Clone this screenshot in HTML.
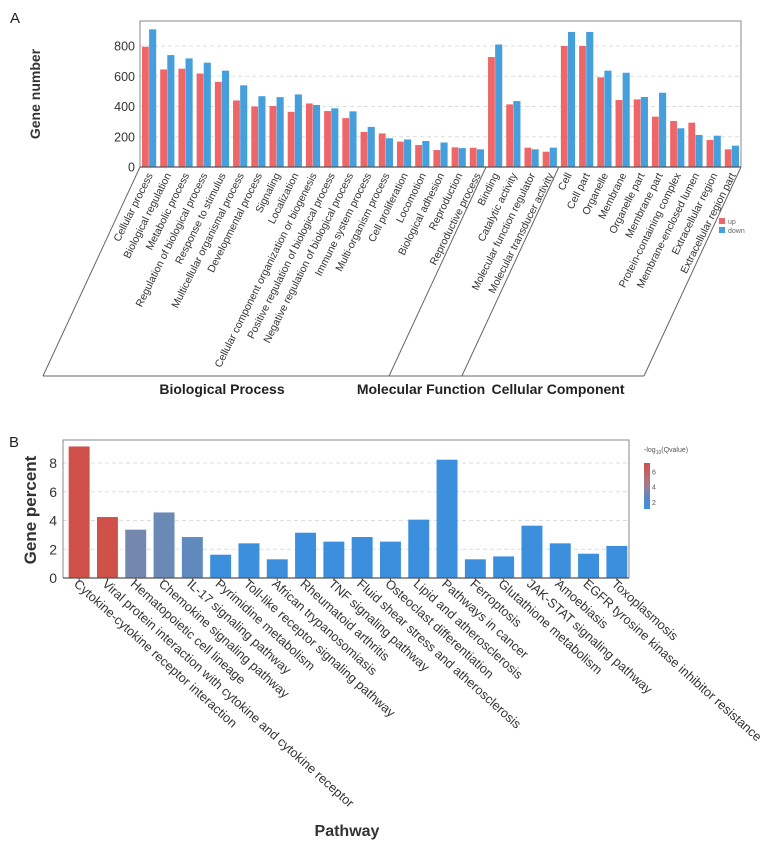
<!DOCTYPE html>
<html><head><meta charset="utf-8">
<style>
body{margin:0;background:#fff;}
svg{display:block;font-family:"Liberation Sans",Arial,sans-serif;}
</style></head>
<body>
<svg id="chart" width="769" height="847" viewBox="0 0 769 847" xmlns="http://www.w3.org/2000/svg"></svg>
<script>
// ---------- Panel A data ----------
const goTerms = ["Cellular process","Biological regulation","Metabolic process","Regulation of biological process","Response to stimulus","Multicellular organismal process","Developmental process","Signaling","Localization","Cellular component organization or biogenesis","Positive regulation of biological process","Negative regulation of biological process","Immune system process","Multi-organism process","Cell proliferation","Locomotion","Biological adhesion","Reproduction","Reproductive process","Binding","Catalytic activity","Molecular function regulator","Molecular transducer activity","Cell","Cell part","Organelle","Membrane","Organelle part","Membrane part","Protein-containing complex","Membrane-enclosed lumen","Extracellular region","Extracellular region part"];
const upValues = [795,645,650,618,563,440,400,403,365,420,370,323,232,222,168,145,112,130,127,727,414,128,101,800,800,593,443,447,333,304,293,179,117];
const downValues = [910,740,718,690,637,540,468,462,480,410,388,368,265,190,182,172,162,125,117,810,436,117,128,893,893,637,623,463,491,256,212,207,141];
const goCategories = ["Biological Process","Molecular Function","Cellular Component"];
const goCategoryCounts = [19,4,10];
const goTicks = [0,200,400,600,800];

// ---------- Panel B data ----------
const pathways = ["Cytokine-cytokine receptor interaction","Viral protein interaction with cytokine and cytokine receptor","Hematopoietic cell lineage","Chemokine signaling pathway","IL-17 signaling pathway","Pyrimidine metabolism","Toll-like receptor signaling pathway","African trypanosomiasis","Rheumatoid arthritis","TNF signaling pathway","Fluid shear stress and atherosclerosis","Osteoclast differentiation","Lipid and atherosclerosis","Pathways in cancer","Ferroptosis","Glutathione metabolism","JAK-STAT signaling pathway","Amoebiasis","EGFR tyrosine kinase inhibitor resistance","Toxoplasmosis"];
const genePercent = [9.15,4.24,3.36,4.56,2.85,1.62,2.41,1.3,3.15,2.53,2.85,2.53,4.06,8.23,1.3,1.5,3.64,2.41,1.69,2.23];
const qValue = [7.2,6.8,3.2,2.9,2.6,1.2,1.2,1.2,1.2,1.2,1.2,1.2,1.2,1.2,1.2,1.2,1.2,1.2,1.2,1.2];
const pTicks = [0,2,4,6,8];
const legendTicks = [2,4,6];

const NS="http://www.w3.org/2000/svg";
const svg=document.getElementById('chart');
function mk(tag,attrs,parent,text){const e=document.createElementNS(NS,tag);for(const k in attrs)e.setAttribute(k,attrs[k]);if(text!==undefined)e.textContent=text;(parent||svg).appendChild(e);return e;}

// ===== Panel A =====
const aL=140,aR=741,aT=21,aB=167;
const ay=v=>aB-v*0.15125;
const n=goTerms.length, step=(aR-aL)/n;
const ax=i=>aL+step*i;
let t=mk('text',{x:10,y:23,'font-size':15,fill:'#222'},svg,'A');

goTicks.forEach(v=>{
  if(v>0){const g=mk('line',{x1:aL,x2:aR,y1:ay(v),y2:ay(v),stroke:'#ddd','stroke-dasharray':'4,3','stroke-width':1});
  }
  const tl=mk('text',{x:aL-5,y:ay(v)+4.5,'text-anchor':'end','font-size':12.5,fill:'#333'},svg,String(v));
  
});
goTerms.forEach((name,i)=>{
  const x0=ax(i)+2, bw=(step-4)/2;
  const r=mk('rect',{x:x0,y:ay(upValues[i]),width:bw-0.3,height:aB-ay(upValues[i]),fill:'#ee6667'});
  
  const b=mk('rect',{x:x0+bw,y:ay(downValues[i]),width:bw,height:aB-ay(downValues[i]),fill:'#459fdc'});
  
  const cx=ax(i)+step/2;
  const lb=mk('text',{x:0,y:0,'text-anchor':'end','font-size':10.5,fill:'#333',transform:`translate(${cx+4},${aB+8}) rotate(-63.5)`},svg,name);
  
});
// box
let bx=mk('path',{d:`M${aL},${aB}V${aT}H${aR}V${aB}`,fill:'none',stroke:'#888','stroke-width':1});

let axl=mk('line',{x1:aL,x2:aR,y1:aB,y2:aB,stroke:'#555','stroke-width':1.2});

// diagonal category lines
const baseY=376, slopeDx=-97;
let acc=0; const bounds=[0];
goCategoryCounts.forEach(c=>{acc+=c;bounds.push(acc);});
bounds.forEach(k=>{
  const xt=ax(k);
  const d=mk('line',{x1:xt,y1:aB,x2:xt+slopeDx,y2:baseY,stroke:'#666','stroke-width':1});
  
});
let bl=mk('line',{x1:aL+slopeDx,x2:aR+slopeDx,y1:baseY,y2:baseY,stroke:'#666','stroke-width':1});

const catX=[222,421,558];
goCategories.forEach((c,i)=>{
  const ct=mk('text',{x:catX[i],y:394,'text-anchor':'middle','font-size':14,'font-weight':'bold',fill:'#222'},svg,c);
  
});
let yt=mk('text',{x:0,y:0,'text-anchor':'middle','font-size':14,'font-weight':'bold',fill:'#333',transform:'translate(40,94) rotate(-90)'},svg,'Gene number');

// legend A
let lu=mk('rect',{x:719,y:218,width:6,height:6,fill:'#ee6667'});
let lut=mk('text',{x:728,y:224,'font-size':7,fill:'#666'},svg,'up');
let ld=mk('rect',{x:719,y:227,width:6,height:6,fill:'#459fdc'});
let ldt=mk('text',{x:728,y:233,'font-size':7,fill:'#666'},svg,'down');

// ===== Panel B =====
const bL=63,bR=629,bT=440,bB=578;
const by=v=>bB-v*14.375;
const m=pathways.length, bstep=(bR-bL)/m;
let tb=mk('text',{x:9,y:447,'font-size':15,fill:'#222'},svg,'B');

pTicks.forEach(v=>{
  if(v>0){const g=mk('line',{x1:bL,x2:bR,y1:by(v),y2:by(v),stroke:'#ddd','stroke-dasharray':'4,3','stroke-width':1});
  }
  const tl=mk('text',{x:bL-6,y:by(v)+5,'text-anchor':'end','font-size':14,fill:'#333'},svg,String(v));
  
});
function qColor(q){
  const c1=[59,143,221],c2=[126,134,163],c3=[208,80,74];
  let a,b,f;
  if(q<=1.5)return 'rgb(59,143,221)';
  if(q<4.5){a=c1;b=c2;f=(q-1.5)/2;if(f>1)f=1;}else{a=c2;b=c3;f=(q-4.5)/1.5;if(f>1)f=1;}
  return `rgb(${Math.round(a[0]+(b[0]-a[0])*f)},${Math.round(a[1]+(b[1]-a[1])*f)},${Math.round(a[2]+(b[2]-a[2])*f)})`;
}
pathways.forEach((name,i)=>{
  const w=bstep*0.74, x=bL+bstep*i+(bstep-w)/2+2;
  const r=mk('rect',{x:x,y:by(genePercent[i]),width:w,height:bB-by(genePercent[i]),fill:qColor(qValue[i])});
  
  const cx=x+w/2;
  const tk=mk('line',{x1:cx,x2:cx,y1:bB,y2:bB+3,stroke:'#555'});
  
  const lb=mk('text',{x:0,y:0,'font-size':12.8,fill:'#333',transform:`translate(${cx-6},${bB+7}) rotate(42)`},svg,name);
  
});
let bxb=mk('path',{d:`M${bL},${bB}V${bT}H${bR}V${bB}`,fill:'none',stroke:'#888','stroke-width':1});

let axb=mk('line',{x1:bL,x2:bR,y1:bB,y2:bB,stroke:'#555','stroke-width':1.2});

let ytb=mk('text',{x:0,y:0,'text-anchor':'middle','font-size':17,'font-weight':'bold',fill:'#333',transform:'translate(36,510) rotate(-90)'},svg,'Gene percent');

let xtb=mk('text',{x:347,y:836,'text-anchor':'middle','font-size':16,'font-weight':'bold',fill:'#333'},svg,'Pathway');

// color legend
const defs=mk('defs',{});
const lg=mk('linearGradient',{id:'qg',x1:0,y1:0,x2:0,y2:1},defs);
mk('stop',{offset:'0','stop-color':'#d0504a'},lg);
mk('stop',{offset:'0.45','stop-color':'#a87a86'},lg);
mk('stop',{offset:'0.75','stop-color':'#5a88c8'},lg);
mk('stop',{offset:'1','stop-color':'#3b8fdd'},lg);
let cb=mk('rect',{x:644,y:463,width:6,height:46,fill:'url(#qg)'});

let ltt=mk('text',{x:644,y:452,'font-size':7,fill:'#555'},svg);

ltt.innerHTML='-log<tspan font-size="5" dy="2">10</tspan><tspan dy="-2">(Qvalue)</tspan>';
const legY=v=>510-(v-1)*7.6;
legendTicks.forEach(v=>{
  const lt=mk('text',{x:652,y:legY(v)+2.5,'font-size':7,fill:'#555'},svg,String(v));
  
});
</script>
</body></html>
